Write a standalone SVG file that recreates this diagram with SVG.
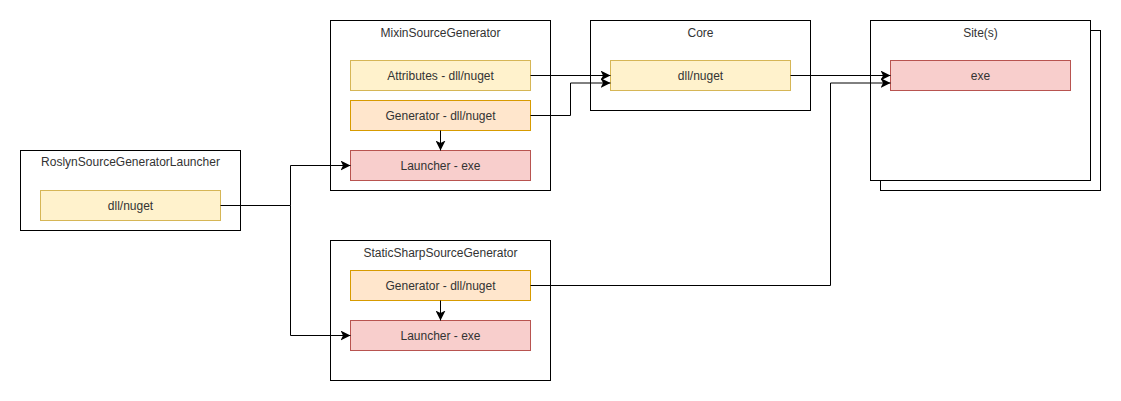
<svg xmlns="http://www.w3.org/2000/svg" width="1121" height="401" viewBox="0 0 1121 401">
<defs>
<marker id="arr" viewBox="0 0 10 10" refX="10" refY="5" markerWidth="10" markerHeight="10" markerUnits="userSpaceOnUse" orient="auto">
<path d="M0,0 L10,5 L0,10 L2.5,5 Z" fill="#000"/>
</marker>
<style>
.c{fill:#fff;stroke:#000;stroke-width:1}
.y{fill:#fff2cc;stroke:#d6b656;stroke-width:1}
.o{fill:#ffe6cc;stroke:#d79b00;stroke-width:1}
.r{fill:#f8cecc;stroke:#b85450;stroke-width:1}
text{font-family:"Liberation Sans",Arial,sans-serif;font-size:12px;fill:#333;text-anchor:middle}
.e{fill:none;stroke:#000;stroke-width:1}
</style>
</defs>
<rect width="1121" height="401" fill="#fff"/>
<g id="roslyn">
<rect class="c" x="20.5" y="150.5" width="220" height="80"/>
<text x="130.5" y="166">RoslynSourceGeneratorLauncher</text>
<rect class="y" x="40.5" y="190.5" width="180" height="30"/>
<text x="130.5" y="209.5">dll/nuget</text>
</g>
<g id="mixin">
<rect class="c" x="330.5" y="20.5" width="220" height="170"/>
<text x="440.5" y="37">MixinSourceGenerator</text>
<g id="mixin-attributes">
<rect class="y" x="350.5" y="60.5" width="180" height="30"/>
<text x="440.5" y="79.5">Attributes - dll/nuget</text>
</g>
<g id="mixin-generator">
<rect class="o" x="350.5" y="100.5" width="180" height="30"/>
<text x="440.5" y="119.5">Generator - dll/nuget</text>
</g>
<g id="mixin-launcher">
<rect class="r" x="350.5" y="150.5" width="180" height="30"/>
<text x="440.5" y="169.5">Launcher - exe</text>
</g>
</g>
<g id="core">
<rect class="c" x="590.5" y="20.5" width="220" height="90"/>
<text x="700.5" y="37">Core</text>
<rect class="y" x="610.5" y="60.5" width="180" height="30"/>
<text x="700.5" y="79.5">dll/nuget</text>
</g>
<g id="sites">
<rect class="c" x="880.5" y="30.5" width="220" height="160"/>
<rect class="c" x="870.5" y="20.5" width="220" height="160"/>
<text x="980.5" y="37">Site(s)</text>
<rect class="r" x="890.5" y="60.5" width="180" height="30"/>
<text x="980.5" y="79.5">exe</text>
</g>
<g id="staticsharp">
<rect class="c" x="330.5" y="240.5" width="220" height="140"/>
<text x="440.5" y="257">StaticSharpSourceGenerator</text>
<g id="static-generator">
<rect class="o" x="350.5" y="270.5" width="180" height="30"/>
<text x="440.5" y="289.5">Generator - dll/nuget</text>
</g>
<g id="static-launcher">
<rect class="r" x="350.5" y="320.5" width="180" height="30"/>
<text x="440.5" y="339.5">Launcher - exe</text>
</g>
</g>
<g id="connectors">
<path class="e" d="M530.5,75.5 H610.5" marker-end="url(#arr)"/>
<path class="e" d="M530.5,115.5 H570.5 V83 H610.5" marker-end="url(#arr)"/>
<path class="e" d="M440.5,130.5 V150.5" marker-end="url(#arr)"/>
<path class="e" d="M790.5,75.5 H890.5" marker-end="url(#arr)"/>
<path class="e" d="M530.5,285.5 H830.5 V83 H890.5" marker-end="url(#arr)"/>
<path class="e" d="M220.5,205.5 H290.5 V165.5 H350.5" marker-end="url(#arr)"/>
<path class="e" d="M290.5,205.5 V335.5 H350.5" marker-end="url(#arr)"/>
<path class="e" d="M440.5,300.5 V320.5" marker-end="url(#arr)"/>
</g>
</svg>
